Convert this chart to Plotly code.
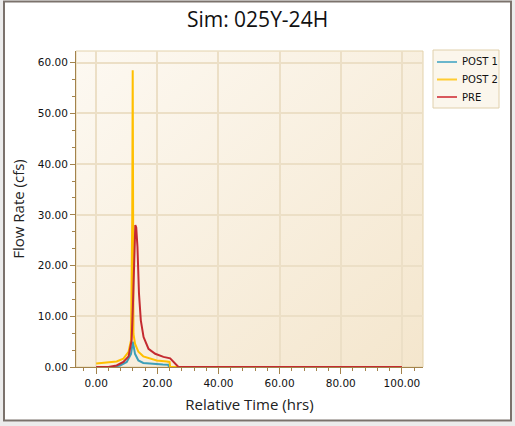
import base64
import plotly.graph_objects as go

# -------------------------------------------------
# Hydrograph data
# -------------------------------------------------
post1_time = [0, 6.0, 7.8, 10.0, 11.4, 12.0, 12.7, 13.8, 15.4, 17.6, 21.8, 23.6, 23.8, 100]
post1_flow = [0, 0.05, 0.3, 1.0, 2.6, 5.0, 2.6, 1.3, 0.8, 0.65, 0.5, 0.45, 0, 0]

post2_time = [0, 4.0, 6.7, 8.9, 10.6, 11.4, 11.8, 11.95, 12.2, 12.7, 13.8, 15.4, 17.6, 19.8, 23.1, 24.0, 24.2, 100]
post2_flow = [0.67, 0.87, 1.1, 1.65, 3.0, 5.3, 30.0, 58.5, 6.5, 4.6, 3.0, 2.1, 1.65, 1.3, 1.1, 1.0, 0, 0]

pre_time = [0, 4.0, 6.7, 8.9, 10.6, 11.6, 12.0, 12.5, 12.8, 13.1, 13.5, 14.0, 14.6, 15.5, 17.1, 19.3, 22.0, 24.2, 25.8, 26.9, 100]
pre_flow = [0, 0, 0.3, 1.0, 2.1, 5.3, 11.8, 25.0, 28.0, 27.5, 23.7, 14.5, 9.2, 5.9, 3.6, 2.6, 2.0, 1.7, 0.7, 0, 0]

series_names = ["POST 1", "POST 2", "PRE"]
series_colors = ["#3d9fb8", "#ffbf00", "#c42a30"]
legend_colors = ["#6ab6cc", "#ffcc33", "#d9585c"]

x_ticks = [0, 20, 40, 60, 80, 100]
y_ticks = [0, 10, 20, 30, 40, 50, 60]

# -------------------------------------------------
# Layout geometry (pixels -> paper coords)
# -------------------------------------------------
W, H = 515, 426
L, R, T, B = 76, 92, 51, 59
PW, PH = W - L - R, H - T - B


def px_x(p):
    return (p - L) / PW


def px_y(p):
    return (H - B - p) / PH


# cream gradient for the plot area
svg = (
    '<svg xmlns="http://www.w3.org/2000/svg" width="100" height="100" preserveAspectRatio="none">'
    '<defs><linearGradient id="g" x1="0" y1="0" x2="1" y2="1">'
    '<stop offset="0" stop-color="#fdf9f2"/><stop offset="1" stop-color="#f4e6cd"/>'
    '</linearGradient></defs><rect width="100" height="100" fill="url(#g)"/></svg>'
)
bg_src = "data:image/svg+xml;base64," + base64.b64encode(svg.encode()).decode()

fig = go.Figure()

for name, color, t, q in zip(
    series_names,
    series_colors,
    [post1_time, post2_time, pre_time],
    [post1_flow, post2_flow, pre_flow],
):
    fig.add_trace(go.Scatter(
        x=t, y=q, name=name, mode="lines",
        line=dict(color=color, width=2),
        showlegend=False,
    ))

axis_color = "#a3834c"
grid_color = "#ecdfc6"
tick_font = dict(family="DejaVu Sans", size=10.5, color="#111111")

fig.update_xaxes(
    range=[-6.6, 106.9],
    tickvals=x_ticks,
    ticktext=[f"{v:.2f}" for v in x_ticks],
    ticks="outside", ticklen=6, tickcolor=axis_color,
    minor=dict(dtick=4, tick0=0, ticks="outside", ticklen=3, tickcolor=axis_color, showgrid=False),
    showline=True, linecolor=axis_color, linewidth=1,
    showgrid=True, gridcolor=grid_color, gridwidth=1.5,
    zeroline=False,
    tickfont=tick_font,
    title=dict(text="Relative Time (hrs)", standoff=11,
               font=dict(family="Open Sans", size=15, color="#222222")),
)

fig.update_yaxes(
    range=[0, 62.3],
    tickvals=y_ticks,
    ticktext=[f"{v:.2f}" for v in y_ticks],
    ticks="outside", ticklen=5, tickcolor=axis_color,
    minor=dict(dtick=10 / 3, tick0=0, ticks="outside", ticklen=3, tickcolor=axis_color, showgrid=False),
    showline=True, linecolor=axis_color, linewidth=1,
    showgrid=True, gridcolor=grid_color, gridwidth=1.5,
    zeroline=False,
    tickfont=tick_font,
    title=dict(text="Flow Rate (cfs)", standoff=9,
               font=dict(family="Open Sans", size=15, color="#222222")),
)

# -------------------------------------------------
# Legend box drawn in the reference's compact style
# -------------------------------------------------
shapes = [
    # light frame around the plot area
    dict(type="rect", xref="paper", yref="paper", x0=0, x1=1, y0=0, y1=1,
         line=dict(color="#e3d2ab", width=1), layer="below"),
    # legend box
    dict(type="rect", xref="paper", yref="paper", x0=px_x(433), x1=px_x(499),
         y0=px_y(108), y1=px_y(50), fillcolor="#fbf6ec",
         line=dict(color="#e0d0ac", width=1)),
    # grey strips outside the window border
    dict(type="rect", xref="paper", yref="paper", x0=px_x(0), x1=px_x(3),
         y0=px_y(H), y1=px_y(0), fillcolor="#ececec", line=dict(width=0)),
    dict(type="rect", xref="paper", yref="paper", x0=px_x(512), x1=px_x(W),
         y0=px_y(H), y1=px_y(0), fillcolor="#ececec", line=dict(width=0)),
    dict(type="rect", xref="paper", yref="paper", x0=px_x(0), x1=px_x(W),
         y0=px_y(H), y1=px_y(421.5), fillcolor="#ececec", line=dict(width=0)),
    # window border
    dict(type="rect", xref="paper", yref="paper", x0=px_x(4), x1=px_x(511),
         y0=px_y(420.5), y1=px_y(1.5), line=dict(color="#7b726c", width=2)),
]
annotations = []
for i, (name, color) in enumerate(zip(series_names, legend_colors)):
    row_y = 62 + i * 17.5
    shapes.append(dict(type="line", xref="paper", yref="paper",
                       x0=px_x(437), x1=px_x(457), y0=px_y(row_y), y1=px_y(row_y),
                       line=dict(color=color, width=2)))
    annotations.append(dict(text=name, xref="paper", yref="paper",
                            x=px_x(460), y=px_y(row_y), xanchor="left", yanchor="middle",
                            showarrow=False,
                            font=dict(family="DejaVu Sans", size=10, color="#111111")))

fig.update_layout(
    width=W, height=H,
    margin=dict(l=L, r=R, t=T, b=B, autoexpand=False),
    paper_bgcolor="white",
    plot_bgcolor="rgba(0,0,0,0)",
    showlegend=False,
    title=dict(
        text="Sim: 025Y-24H", x=0.5, xanchor="center", y=1 - 20 / H, yanchor="middle",
        font=dict(family="Open Sans", size=21, color="#111111"),
    ),
    images=[dict(
        source=bg_src, xref="paper", yref="paper", x=0, y=1,
        sizex=1, sizey=1, sizing="stretch", layer="below",
        xanchor="left", yanchor="top",
    )],
    shapes=shapes,
    annotations=annotations,
)

fig.write_html(
    "out.html",
    config={"displayModeBar": False},
    post_script="document.body.style.margin='0';document.body.style.overflow='hidden';",
)
